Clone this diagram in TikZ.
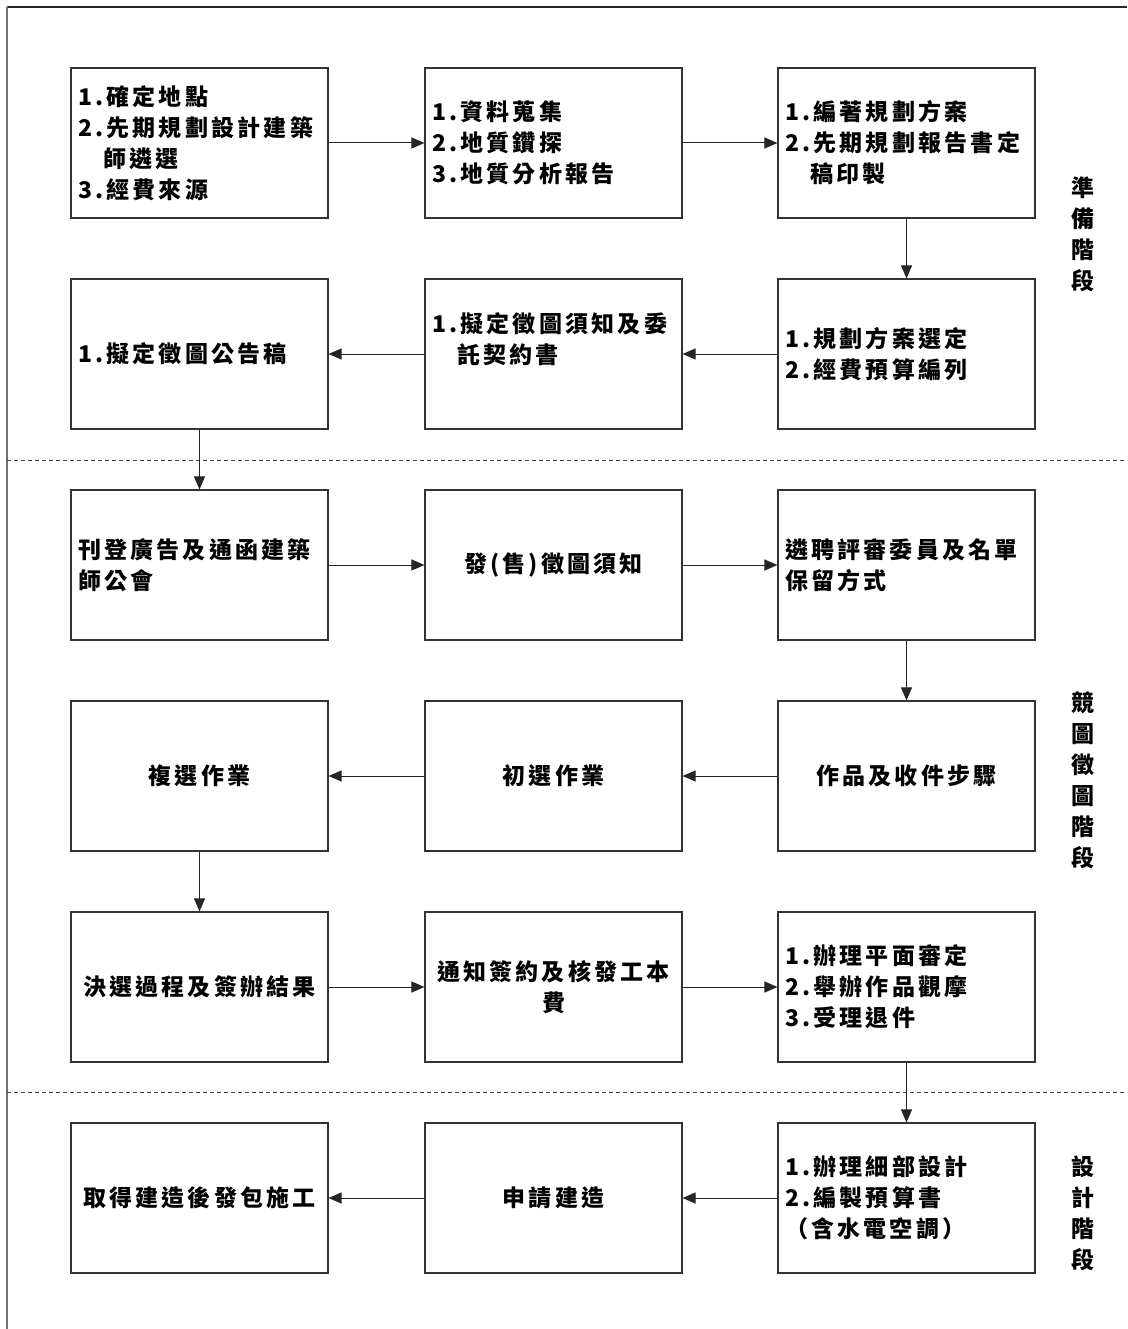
\documentclass[tikz,border=0pt]{standalone}
\usepackage{fontspec}
\setmainfont[LetterSpace=14]{Noto Sans CJK TC}
\usetikzlibrary{arrows.meta}
\begin{document}
\begin{tikzpicture}[x=1pt,y=-1pt,
  box/.style={draw=black!80, line width=1.1pt, minimum width=257pt, minimum height=150pt,
    inner xsep=7pt, inner ysep=0pt, text width=243pt, font=\fontsize{23}{31}\selectfont\bfseries},
  boxl/.style={box, align=left},
  boxc/.style={box, align=center},
  arr/.style={-{Triangle[length=13pt,width=11pt]}, line width=1pt, draw=black!85},
  stage/.style={align=center, inner sep=0pt, font=\fontsize{23}{31}\selectfont\bfseries},
  sep/.style={draw=black!75, line width=0.9pt, dash pattern=on 4pt off 3pt}]
\useasboundingbox (0,0) rectangle (1127,1329);
% frame
\coordinate (ftl) at (7,7);
\coordinate (ftr) at (1127,7);
\coordinate (fbl) at (7,1329);
\draw[black!85, line width=1.6pt] (ftl) -- (ftr);
\draw[black!55, line width=1.6pt] (ftl) -- (fbl);
% separators
\coordinate (d1l) at (7,460);
\coordinate (d1r) at (1127,460);
\coordinate (d2l) at (7,1092);
\coordinate (d2r) at (1127,1092);
\draw[sep] (d1l) -- (d1r);
\draw[sep] (d2l) -- (d2r);
% row 1
\node[boxl] (a1) at (199.5,143) {1.確定地點\\2.先期規劃設計建築\\\phantom{2.}師遴選\\3.經費來源};
\node[boxl] (a2) at (553.5,143) {1.資料蒐集\\2.地質鑽探\\3.地質分析報告};
\node[boxl] (a3) at (906.5,143) {1.編著規劃方案\\2.先期規劃報告書定\\\phantom{2.}稿印製};
% row 2
\node[boxl] (b3) at (906.5,354) {1.規劃方案選定\\2.經費預算編列};
\node[boxl] (b2) at (553.5,354) {1.擬定徵圖須知及委\\\phantom{1.}託契約書\\\mbox{}};
\node[boxl] (b1) at (199.5,354) {1.擬定徵圖公告稿};
% row 3
\node[boxl] (c1) at (199.5,565) {刊登廣告及通函建築\\師公會};
\node[boxc] (c2) at (553.5,565) {發(售)徵圖須知};
\node[boxl] (c3) at (906.5,565) {遴聘評審委員及名單\\保留方式};
% row 4
\node[boxc] (d3) at (906.5,776) {作品及收件步驟};
\node[boxc] (d2) at (553.5,776) {初選作業};
\node[boxc] (d1) at (199.5,776) {複選作業};
% row 5
\node[boxc] (e1) at (199.5,987) {決選過程及簽辦結果};
\node[boxc] (e2) at (553.5,987) {通知簽約及核發工本\\費};
\node[boxl] (e3) at (906.5,987) {1.辦理平面審定\\2.舉辦作品觀摩\\3.受理退件};
% row 6
\node[boxl] (f3) at (906.5,1198) {1.辦理細部設計\\2.編製預算書\\（含水電空調）};
\node[boxc] (f2) at (553.5,1198) {申請建造};
\node[boxc] (f1) at (199.5,1198) {取得建造後發包施工};
% stage labels
\node[stage] (s1) at (1083,234) {準\\備\\階\\段};
\node[stage] (s2) at (1083,780) {競\\圖\\徵\\圖\\階\\段};
\node[stage] (s3) at (1083,1213) {設\\計\\階\\段};
% connectors
\draw[arr] (a1) -- (a2);
\draw[arr] (a2) -- (a3);
\draw[arr] (a3) -- (b3);
\draw[arr] (b3) -- (b2);
\draw[arr] (b2) -- (b1);
\draw[arr] (b1) -- (c1);
\draw[arr] (c1) -- (c2);
\draw[arr] (c2) -- (c3);
\draw[arr] (c3) -- (d3);
\draw[arr] (d3) -- (d2);
\draw[arr] (d2) -- (d1);
\draw[arr] (d1) -- (e1);
\draw[arr] (e1) -- (e2);
\draw[arr] (e2) -- (e3);
\draw[arr] (e3) -- (f3);
\draw[arr] (f3) -- (f2);
\draw[arr] (f2) -- (f1);
\end{tikzpicture}
\end{document}
